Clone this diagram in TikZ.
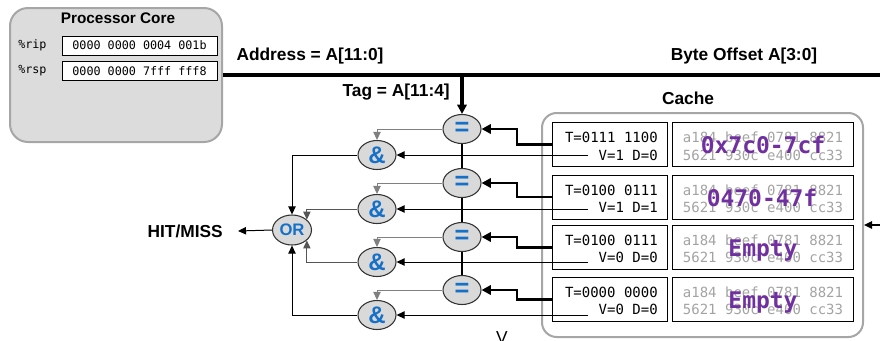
\documentclass[tikz,border=0pt]{standalone}
\usepackage{fontspec}
\setmainfont{Liberation Sans}
\setmonofont{DejaVu Sans Mono}
\usetikzlibrary{shapes.geometric,arrows.meta,calc}

\definecolor{gatefill}{HTML}{D9D9D9}
\definecolor{opblue}{HTML}{1570C8}
\definecolor{rangepurple}{HTML}{7030A0}
\definecolor{framegray}{HTML}{A6A6A6}
\definecolor{datagray}{HTML}{A3A3A3}
\definecolor{wiregray}{HTML}{808080}
\definecolor{wiredark}{HTML}{555555}
\definecolor{corefill}{HTML}{DCDCDC}

\begin{document}
\begin{tikzpicture}[x=0.75pt,y=-0.75pt,
  gate/.style={ellipse, draw=black!80, fill=gatefill, line width=0.8pt,
    minimum width=28.5pt, minimum height=21.75pt, inner sep=0pt, text=opblue},
  eqgate/.style={gate, font=\fontsize{19}{19}\selectfont\bfseries},
  andgate/.style={gate, font=\fontsize{18}{18}\selectfont\bfseries},
  orgate/.style={gate, minimum width=29.25pt, minimum height=22.5pt,
    font=\fontsize{12.5}{14}\selectfont\bfseries},
  tip/.style={-{Triangle[length=6pt,width=5.5pt]}},
  bigtip/.style={-{Triangle[length=7pt,width=7pt]}},
  wire/.style={line width=0.75pt},
  busline/.style={line width=2.3pt},
  cmpline/.style={line width=2pt},
  lbl/.style={font=\fontsize{13}{15}\selectfont\bfseries, inner sep=0pt},
  regbox/.style={draw=black, fill=white, line width=0.75pt,
    minimum width=116.25pt, minimum height=14.25pt, inner sep=0pt,
    font=\ttfamily\fontsize{8.8}{10}\selectfont},
  reglbl/.style={font=\ttfamily\fontsize{8.8}{10}\selectfont, inner sep=0pt, anchor=west},
  tagbox/.style={draw=black, line width=0.75pt, minimum width=86.25pt,
    minimum height=33pt, inner sep=0pt},
  databox/.style={draw=black, line width=0.75pt, minimum width=135.75pt,
    minimum height=33pt, inner sep=0pt},
  tagtxt/.style={font=\ttfamily\fontsize{10.5}{12}\selectfont, inner sep=0pt, anchor=base east},
  datatxt/.style={font=\ttfamily\fontsize{10.5}{12}\selectfont, text=datagray, inner sep=0pt, anchor=base},
  rangetxt/.style={font=\ttfamily\bfseries\fontsize{17.2}{18}\selectfont, text=rangepurple, inner sep=0pt, anchor=base}
]
\useasboundingbox (0,0) rectangle (880,340);

% processor core with its two registers
\node[draw=framegray, fill=corefill, line width=1.5pt, rounded corners=13.5pt,
  minimum width=159pt, minimum height=100.5pt, inner sep=0pt] (proc) at (116,75) {};
\node[font=\fontsize{11.5}{13}\selectfont\bfseries, inner sep=0pt] (proclbl) at (118,18) {Processor Core};
\node[reglbl] (riplbl) at (18,45) {\%rip};
\node[regbox] (rip) at (139.5,45.5) {0000 0000 0004 001b};
\node[reglbl] (rsplbl) at (18,71) {\%rsp};
\node[regbox] (rsp) at (139.5,71) {0000 0000 7fff fff8};

% address bus
\coordinate (busend) at (880,75);
\coordinate (tap) at (462,75);
\draw[busline] (proc.east) -- (busend);
\node[lbl] (addrlbl) at (310,56) {Address = A[11:0]};
\node[lbl] (offlbl) at (744,56) {Byte Offset A[3:0]};
\node[lbl, anchor=east] (taglbl) at (450,92) {Tag = A[11:4]};

% cache
\node[draw=framegray, line width=1.5pt, rounded corners=11pt,
  minimum width=240.75pt, minimum height=168pt, inner sep=0pt] (cache) at (702.5,225) {};
\node[lbl] (cachelbl) at (688,98) {Cache};
\coordinate (cachein) at (880,225);
\draw[wire, line width=1.3pt, tip] (cachein) -- (cache.east);

% cache lines
\foreach \i/\c/\t/\v in {
  1/144.7/{T=0111 1100}/{V=1 D=0},
  2/197/{T=0100 0111}/{V=1 D=1},
  3/247.2/{T=0100 0111}/{V=0 D=0},
  4/299.2/{T=0000 0000}/{V=0 D=0}}{
  \node[tagbox] (tag\i) at (609.5,\c) {};
  \node[databox] (data\i) at (762.5,\c) {};
  \node[tagtxt] (tagt\i) at (658,\c-2) {\t};
  \node[tagtxt] (tagv\i) at (658,\c+15.5) {\v};
  \node[datatxt] (datah\i) at (763,\c-2) {a184 beef 0781 8821};
  \node[datatxt] (datal\i) at (763,\c+15.5) {5621 930c e400 cc33};
}
\node[rangetxt] (range1) at (763,153) {0x7c0-7cf};
\node[rangetxt] (range2) at (762,206) {0470-47f};
\node[rangetxt] (range3) at (763,256.7) {Empty};
\node[rangetxt] (range4) at (763,308) {Empty};

% comparators, and-gates, or-gate
\node[eqgate] (eq1) at (462,129) {=};
\node[eqgate] (eq2) at (462,183) {=};
\node[eqgate] (eq3) at (462,237) {=};
\node[eqgate] (eq4) at (462,290) {=};
\node[andgate] (and1) at (377,155) {\&};
\node[andgate] (and2) at (377,209) {\&};
\node[andgate] (and3) at (377,262) {\&};
\node[andgate] (and4) at (377,315) {\&};
\node[orgate] (or) at (292,230) {OR};
\node[lbl, anchor=east] (hit) at (223,231) {HIT/MISS};

% tag bus down through the comparators
\draw[busline, bigtip] (tap) -- (eq1.north);
\draw[cmpline] (eq1.south) -- (eq2.north);
\draw[cmpline] (eq2.south) -- (eq3.north);
\draw[cmpline] (eq3.south) -- (eq4.north);

% stored tags into the comparators
\coordinate (jog) at (517,0);
\foreach \i in {1,2,3,4}{
  \draw[cmpline, bigtip] (tag\i.west) -- (tag\i.west -| jog) |- (eq\i.east);
}

% comparator results into the and-gates
\foreach \i in {1,2,3,4}{
  \draw[wire, draw=wiregray, tip] (eq\i.west) -| (and\i.north);
}

% and-gates into the or-gate
\draw[wire, tip] (and1.west) -| (or.north);
\draw[wire, draw=wiredark, tip] (and2.west) -| (or.35);
\draw[wire, draw=wiredark, tip] (and3.west) -| (or.-35);
\draw[wire, tip] (and4.west) -| (or.south);
\draw[wire, tip] (or.west) -- ($(hit.east)+(15,0)$);

% valid bits into the and-gates
\coordinate (vx) at (588,0);
\foreach \i in {1,2,3,4}{
  \draw[wire, tip] (and\i.east -| vx) -- (and\i.east);
}

% cut-off label at the lower edge
\node[font=\fontsize{13}{15}\selectfont, inner sep=0pt, anchor=north] (vlbl) at (502,331) {V};
\end{tikzpicture}
\end{document}
